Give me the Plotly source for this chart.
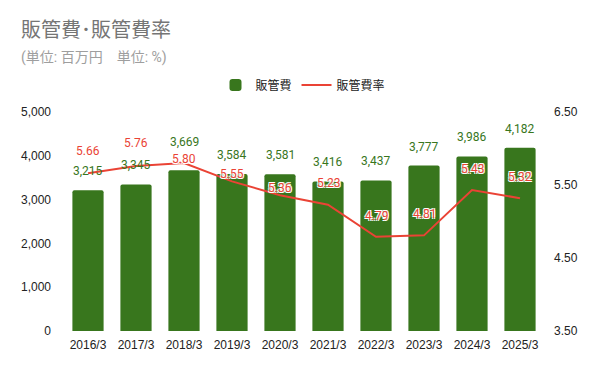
import plotly.graph_objects as go

categories = ["2016/3", "2017/3", "2018/3", "2019/3", "2020/3", "2021/3", "2022/3", "2023/3", "2024/3", "2025/3"]
sga = [3215, 3345, 3669, 3584, 3581, 3416, 3437, 3777, 3986, 4182]
sga_ratio = [5.66, 5.76, 5.80, 5.55, 5.36, 5.23, 4.79, 4.81, 5.43, 5.32]
sga_label_shift = [19, 19, 28, 19, 19, 19, 19, 19, 19, 19]
ratio_label_shift = [22, 23, 4, 7, 7, 22, 21, 21, 21, 21]

GREEN = "#38761d"
RED = "#ea4335"
FONT = "Roboto, Arial, 'Noto Sans CJK JP', sans-serif"
TICKFONT = "'Liberation Sans', Arial, sans-serif"
W, H = 600, 371
ML, MR, MT, MB = 64, 56, 112, 40

fig = go.Figure()
fig.add_trace(go.Bar(x=categories, y=sga, name="販管費",
                     marker=dict(color=GREEN, line=dict(width=0), cornerradius=2), yaxis="y"))
fig.add_trace(go.Scatter(x=categories, y=sga_ratio, name="販管費率", mode="lines",
                         line=dict(color=RED, width=2), yaxis="y2"))

annotations = []
for c, v, s in zip(categories, sga, sga_label_shift):
    annotations.append(dict(x=c, y=v, xref="x", yref="y", text=f"{v:,}", showarrow=False,
                            yanchor="middle", yshift=s,
                            font=dict(color=GREEN, size=12, family=FONT)))
white = "1px 1px 0 #fff, -1px -1px 0 #fff, 1px -1px 0 #fff, -1px 1px 0 #fff"
for c, v, s in zip(categories, sga_ratio, ratio_label_shift):
    annotations.append(dict(x=c, y=v, xref="x", yref="y2", text=f"{v:.2f}", showarrow=False,
                            yanchor="middle", yshift=s,
                            font=dict(color=RED, size=12, family=FONT, shadow=white)))


def px_to_paper(px, py):
    return (px - ML) / (W - ML - MR), 1 + (MT - py) / (H - MT - MB)


tx, ty = px_to_paper(19, 30)
annotations.append(dict(x=tx, y=ty, xref="paper", yref="paper", text="販管費･販管費率", showarrow=False,
                        xanchor="left", yanchor="middle", font=dict(size=20, color="#757575", family=FONT)))
sx, sy = px_to_paper(19, 58)
annotations.append(dict(x=sx, y=sy, xref="paper", yref="paper", text="(単位: 百万円　単位: %)", showarrow=False,
                        xanchor="left", yanchor="middle", font=dict(size=14, color="#9e9e9e", family=FONT)))

lx, ly = px_to_paper(303, 85)
fig.update_layout(
    width=W, height=H,
    margin=dict(l=ML, r=MR, t=MT, b=MB, autoexpand=False),
    paper_bgcolor="white", plot_bgcolor="white",
    font=dict(family=FONT, size=12, color="#222222"),
    bargap=0.35,
    showlegend=True,
    legend=dict(orientation="h", x=lx, xanchor="center", y=ly, yanchor="middle",
                font=dict(size=12, color="#222222"), itemwidth=30, tracegroupgap=0),
    xaxis=dict(showgrid=False, showline=False, ticks="", automargin=False, ticklabelstandoff=5,
               tickfont=dict(size=12, color="#222222", family=TICKFONT)),
    yaxis=dict(range=[0, 5000], dtick=1000, tickformat=",d", showgrid=False, zeroline=False,
               showline=False, automargin=False, ticklabelstandoff=12,
               tickfont=dict(size=12, color="#222222", family=TICKFONT)),
    yaxis2=dict(range=[3.5, 6.5], tick0=3.5, dtick=1, tickformat=".2f", overlaying="y", side="right",
                showgrid=False, zeroline=False, showline=False, automargin=False, ticklabelstandoff=9,
                tickfont=dict(size=12, color="#222222", family=TICKFONT)),
    annotations=annotations,
)

fig.write_html("out.html", config={"displayModeBar": False},
               post_script="document.body.style.margin='0';")
